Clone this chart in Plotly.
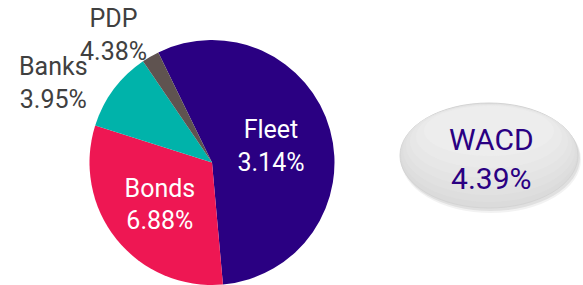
import plotly.graph_objects as go

# Data
labels = ["Fleet", "Bonds", "Banks", "PDP"]
shares = [55.8, 31.3, 10.6, 2.3]          # slice sizes (% of debt)
rates = ["3.14%", "6.88%", "3.95%", "4.38%"]  # cost of each debt type
wacd_label = "WACD"
wacd_value = "4.39%"

colors = ["#2a0082", "#ee1753", "#00b3aa", "#5f5350"]
W, H = 583, 285
FONT = "Roboto"

def px(x):
    return x / W

def py(y):
    return (H - y) / H

inside_text = [f"{l}<br>{r}" if i < 2 else "" for i, (l, r) in enumerate(zip(labels, rates))]

fig = go.Figure()
fig.add_trace(go.Pie(
    labels=labels,
    values=shares,
    sort=False,
    direction="clockwise",
    rotation=-26,
    marker=dict(colors=colors, line=dict(color="white", width=0)),
    text=inside_text,
    textinfo="text",
    textposition="inside",
    insidetextorientation="horizontal",
    insidetextfont=dict(family=FONT, size=25, color="white"),
    hoverinfo="label+value",
    domain=dict(x=[(212 - 122.5) / W, (212 + 122.5) / W], y=[0, 245 / H]),
    showlegend=False,
))

annotations = []
# outside labels for the small slices
for idx, (cx, cy) in zip([2, 3], [(53, 83), (113, 35)]):
    annotations.append(dict(
        x=px(cx), y=py(cy), xref="paper", yref="paper",
        text=f"{labels[idx]}<br>{rates[idx]}", showarrow=False,
        xanchor="center", yanchor="middle", align="center",
        font=dict(family=FONT, size=25, color="#404040"),
    ))
annotations.append(dict(
    x=px(491), y=py(159), xref="paper", yref="paper",
    text=f"{wacd_label}<br>{wacd_value}", showarrow=False,
    xanchor="center", yanchor="middle", align="center",
    font=dict(family=FONT, size=30, color="#2a0082"),
))

def ell(x0, x1, y0, y1, fill, line=None):
    return dict(type="circle", xref="paper", yref="paper", layer="below",
                x0=px(x0), x1=px(x1), y0=py(y1), y1=py(y0),
                fillcolor=fill, line=line or dict(width=0))

shapes = [
    ell(401, 581, 106, 213, "rgba(0,0,0,0.05)"),
    ell(401, 580, 105, 211, "rgba(0,0,0,0.07)"),
    ell(400, 578, 103, 208, "#dbdbdb", dict(color="#d4d4d4", width=1)),
    ell(401, 577, 104, 202, "#dedede"),
    ell(403, 575, 104, 195, "#e1e1e1"),
    ell(406, 572, 104, 187, "#e4e4e4"),
    ell(410, 568, 105, 178, "#e7e7e7"),
    ell(416, 562, 105, 168, "#eaeaea"),
    ell(424, 554, 106, 156, "#ededed"),
]

fig.update_layout(
    width=W, height=H,
    margin=dict(l=0, r=0, t=0, b=0),
    paper_bgcolor="white", plot_bgcolor="white",
    annotations=annotations,
    shapes=shapes,
    showlegend=False,
)

fig.write_html("out.html", config={"displayModeBar": False},
               post_script="document.body.style.margin='0px';")
